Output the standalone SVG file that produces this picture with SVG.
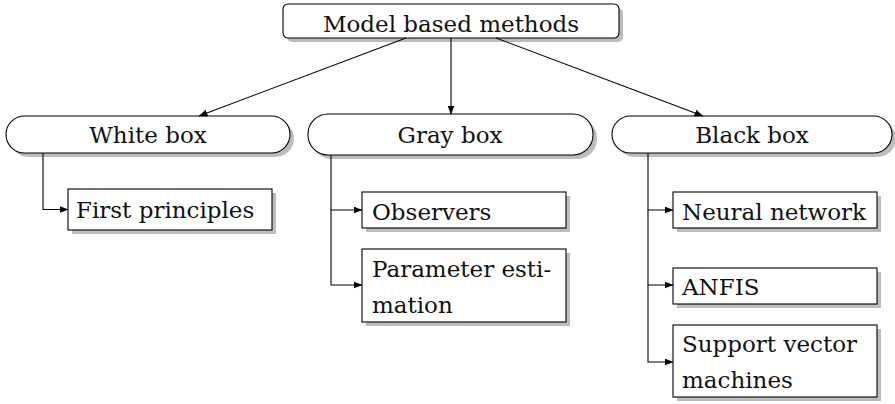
<svg xmlns="http://www.w3.org/2000/svg" width="895" height="404" viewBox="0 0 895 404">
<defs>
<marker id="ah" markerWidth="9" markerHeight="7" refX="8.5" refY="3.5" orient="auto" markerUnits="userSpaceOnUse">
<path d="M0,0 L9,3.5 L0,7 z" fill="#000"/>
</marker>
</defs>
<style>
.box{fill:#fff;stroke:#000;stroke-width:1.1}
.sh{fill:#bdbdbd;stroke:none}
.t{font-family:"DejaVu Serif","Liberation Serif",serif;font-size:23px;fill:#111}
.c{text-anchor:middle}
.ln{fill:none;stroke:#000;stroke-width:1.1}
</style>
<rect width="895" height="404" fill="#fff"/>
<g id="root">
<rect class="sh" x="287" y="8" width="336" height="34" rx="5"/>
<rect class="box" x="283" y="4" width="336" height="34" rx="5"/>
<text class="t c" x="451" y="32">Model based methods</text>
</g>
<g id="white">
<rect class="sh" x="10" y="120" width="284" height="37" rx="18.5"/>
<rect class="box" x="6" y="116" width="284" height="37" rx="18.5"/>
<text class="t c" x="148" y="143">White box</text>
</g>
<g id="gray">
<rect class="sh" x="312" y="118" width="285" height="41" rx="20"/>
<rect class="box" x="308" y="114" width="285" height="41" rx="20"/>
<text class="t c" x="450" y="143">Gray box</text>
</g>
<g id="black">
<rect class="sh" x="616" y="120" width="280" height="37" rx="18.5"/>
<rect class="box" x="612" y="116" width="280" height="37" rx="18.5"/>
<text class="t c" x="752" y="143">Black box</text>
</g>
<g id="first">
<rect class="sh" x="72" y="193" width="204" height="41"/>
<rect class="box" x="68" y="189" width="204" height="41"/>
<text class="t" x="76" y="218">First principles</text>
</g>
<g id="observers">
<rect class="sh" x="366" y="196" width="204" height="36"/>
<rect class="box" x="362" y="192" width="204" height="36"/>
<text class="t" x="372" y="220">Observers</text>
</g>
<g id="param">
<rect class="sh" x="366" y="253" width="204" height="73"/>
<rect class="box" x="362" y="249" width="204" height="73"/>
<text class="t" x="372" y="277">Parameter esti-</text>
<text class="t" x="372" y="313">mation</text>
</g>
<g id="neural">
<rect class="sh" x="677" y="196" width="204" height="36"/>
<rect class="box" x="673" y="192" width="204" height="36"/>
<text class="t" x="682" y="220">Neural network</text>
</g>
<g id="anfis">
<rect class="sh" x="677" y="272" width="204" height="36"/>
<rect class="box" x="673" y="268" width="204" height="36"/>
<text class="t" x="682" y="295">ANFIS</text>
</g>
<g id="svm">
<rect class="sh" x="677" y="329" width="204" height="72"/>
<rect class="box" x="673" y="325" width="204" height="72"/>
<text class="t" x="682" y="352">Support vector</text>
<text class="t" x="682" y="388">machines</text>
</g>
<g id="connectors">
<path class="ln" d="M406,38 L199,116" marker-end="url(#ah)"/>
<path class="ln" d="M451,38 L451,114" marker-end="url(#ah)"/>
<path class="ln" d="M496,38 L703,116" marker-end="url(#ah)"/>
<path class="ln" d="M43,153 L43,209.5 L68,209.5" marker-end="url(#ah)"/>
<path class="ln" d="M331,155 L331,210 L362,210" marker-end="url(#ah)"/>
<path class="ln" d="M331,210 L331,285 L362,285" marker-end="url(#ah)"/>
<path class="ln" d="M648,153 L648,210 L673,210" marker-end="url(#ah)"/>
<path class="ln" d="M648,210 L648,285 L673,285" marker-end="url(#ah)"/>
<path class="ln" d="M648,285 L648,362 L673,362" marker-end="url(#ah)"/>
</g>
</svg>
